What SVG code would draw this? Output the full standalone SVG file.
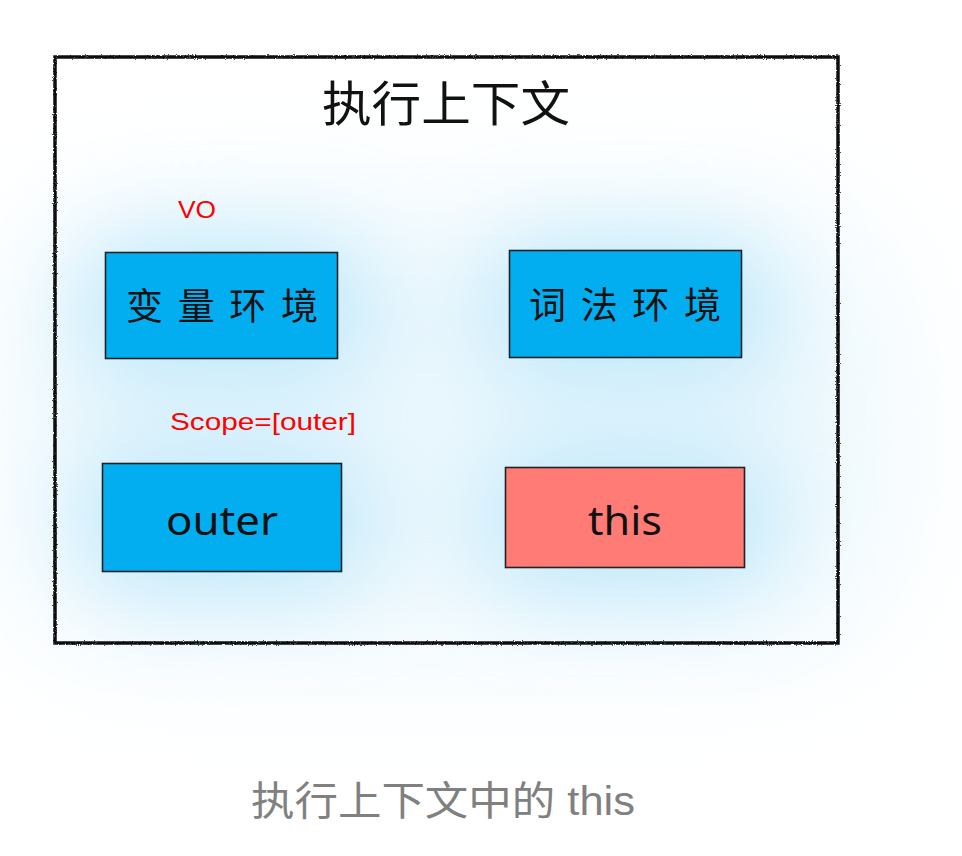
<svg xmlns="http://www.w3.org/2000/svg" width="962" height="856" viewBox="0 0 962 856">
<defs>
<filter id="glow" x="-100%" y="-100%" width="300%" height="300%"><feGaussianBlur stdDeviation="45"/></filter>
<filter id="haze" x="-50%" y="-50%" width="200%" height="200%"><feGaussianBlur stdDeviation="70"/></filter>
<filter id="rough" x="-5%" y="-5%" width="110%" height="110%"><feTurbulence type="fractalNoise" baseFrequency="0.9" numOctaves="2" seed="3"/><feDisplacementMap in="SourceGraphic" scale="2.5"/></filter>
<style>
.box{stroke:#222;stroke-width:1.6}
.blue{fill:#02aef0}
.red{fill:#ff7b76}
.lbl{font-family:"Noto Sans CJK SC","Noto Sans",sans-serif;font-size:37px;fill:#111}
.note{font-family:"Liberation Sans",Arial,sans-serif;font-size:24px;fill:#ff0000}
</style>
</defs>
<rect width="962" height="856" fill="#fff"/>
<g id="glow-bg">
<rect x="20" y="220" width="860" height="420" rx="120" fill="#eaf7fd" filter="url(#haze)"/>
<g filter="url(#glow)" fill="#bfe8fa">
<rect x="80" y="240" width="290" height="140" rx="60"/>
<rect x="485" y="240" width="290" height="140" rx="60"/>
<rect x="80" y="450" width="290" height="140" rx="60"/>
<rect x="485" y="450" width="290" height="140" rx="60"/>
</g>
</g>
<g id="context">
<rect x="55" y="57" width="783" height="586" fill="none" stroke="#111" stroke-width="3.5" filter="url(#rough)"/>
<text x="322" y="121" font-family="'Noto Sans CJK SC',sans-serif" font-size="48" fill="#111" textLength="248" lengthAdjust="spacingAndGlyphs">执行上下文</text>
</g>
<g id="vo-label"><text class="note" x="178" y="218" textLength="38" lengthAdjust="spacingAndGlyphs">VO</text></g>
<g id="var-env">
<rect class="box blue" x="105.5" y="252.5" width="232" height="106"/>
<text class="lbl" x="126" y="320" textLength="192">变量环境</text>
</g>
<g id="lex-env">
<rect class="box blue" x="509.5" y="250.5" width="232" height="107"/>
<text class="lbl" x="529" y="319" textLength="192">词法环境</text>
</g>
<g id="scope-label"><text class="note" x="170" y="430" textLength="186" lengthAdjust="spacingAndGlyphs">Scope=[outer]</text></g>
<g id="outer">
<rect class="box blue" x="102.5" y="463.5" width="239" height="108"/>
<text x="166" y="535" font-family="'Noto Sans',sans-serif" font-size="40" fill="#111" textLength="112" lengthAdjust="spacingAndGlyphs">outer</text>
</g>
<g id="this">
<rect class="box red" x="505.5" y="467.5" width="239" height="100"/>
<text x="588" y="535" font-family="'Noto Sans',sans-serif" font-size="40" fill="#111" textLength="74" lengthAdjust="spacingAndGlyphs">this</text>
</g>
<g id="connectors"></g>
<g id="caption"><text x="251" y="815" font-family="'Liberation Sans','Noto Sans CJK SC',sans-serif" font-size="40" fill="#808080" textLength="384" lengthAdjust="spacingAndGlyphs">执行上下文中的 this</text></g>
</svg>
